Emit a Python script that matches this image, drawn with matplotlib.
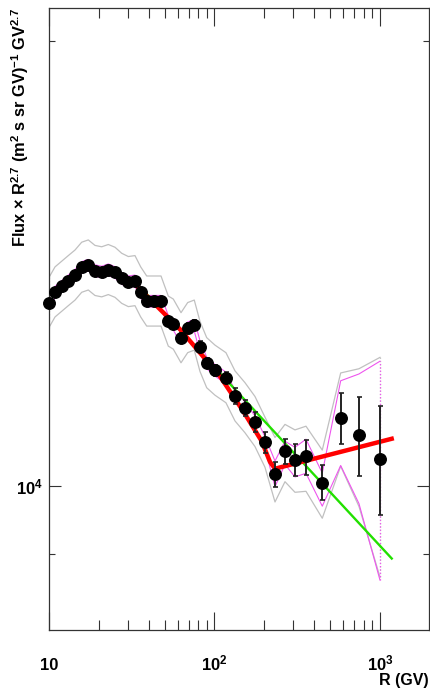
import numpy as np
import matplotlib
matplotlib.use("Agg")
import matplotlib.pyplot as plt
from matplotlib.ticker import FixedLocator, FixedFormatter, NullFormatter

plt.rcParams['font.family'] = ['Liberation Sans', 'DejaVu Sans']
plt.rcParams['font.weight'] = 'bold'
plt.rcParams['mathtext.fontset'] = 'custom'
plt.rcParams['mathtext.rm'] = 'Liberation Sans:bold'
plt.rcParams['mathtext.bf'] = 'Liberation Sans:bold'
plt.rcParams['mathtext.it'] = 'Liberation Sans:bold'
plt.rcParams['mathtext.default'] = 'rm'

# ---- data ----
rigidity = [10.0, 10.87, 11.93, 13.08, 14.36, 15.76, 17.28, 18.96, 20.82, 22.82,
            25.05, 27.50, 30.15, 33.08, 35.82, 38.93, 43.10, 47.51, 52.59, 56.37,
            62.76, 68.89, 75.48, 81.74, 89.72, 100.7, 117.3, 133.0, 152.9, 175.7,
            201.9, 232.1, 266.7, 306.5, 357.2, 448.1, 578.8, 746.6, 1000.0]
flux = [13300, 13520, 13640, 13760, 13880, 14050, 14100, 13980, 13950, 14000,
        13940, 13810, 13740, 13760, 13520, 13330, 13330, 13330, 12920, 12860,
        12590, 12790, 12840, 12420, 12110, 11970, 11830, 11500, 11290, 11050,
        10700, 10190, 10550, 10410, 10470, 10040, 11110, 10820, 10430]
err_lo = [80]*20 + [100]*7 + [145, 142, 174, 168, 205, 208, 257, 306, 263, 437, 660, 873]
err_hi = [80]*20 + [100]*7 + [145, 142, 174, 168, 193, 208, 263, 265, 286, 453, 661, 887]

# outer (grey) and inner (magenta) bands, relative half widths in percent
grey_up_pct = [4.0]*31 + [5.8, 4.3, 4.8, 4.8, 5.3, 7.3, 10.9, 17.1]
grey_lo_pct = [3.8]*31 + [4.3, 4.6, 4.9, 5.3, 5.3, 7.2, 10.5, 16.8]
mag_up_pct = [0.9]*31 + [2.0, 1.6, 2.0, 2.7, 1.6, 6.0, 10.0, 16.4]
mag_lo_pct = [0.9]*31 + [2.0, 2.0, 2.6, 2.6, 3.5, 7.1, 10.1, 17.2]

# single power-law fit (green) and broken power-law fit (red)
green_R = [33.6, 1178]
green_F = [13720, 8930]
red_R = [33.88, 61.88, 107.9, 149.3, 192.8, 216.4, 232.1, 1177]
red_F = [13650, 12760, 11860, 11230, 10720, 10380, 10270, 10760]

x_ticks = [10, 100, 1000]
x_tick_labels = ['10', r'$10^{2}$', r'$10^{3}$']
y_ticks = [1e4]
y_tick_labels = [r'$10^{4}$']
y_minor = [9e3, 2e4]

R = np.array(rigidity)
F = np.array(flux)

fig = plt.figure(figsize=(4.31, 6.90), dpi=100)
ax = fig.add_axes([0.1137, 0.087, 0.8823, 0.9014])
ax.set_xscale('log')
ax.set_yscale('log')
ax.set_xlim(10, 1986)
ax.set_ylim(7990, 21040)

grey = '#c0c0c0'
mag = '#ee55ee'
g_hi = F * (1 + np.array(grey_up_pct) / 100)
g_lo = F * (1 - np.array(grey_lo_pct) / 100)
m_hi = F * (1 + np.array(mag_up_pct) / 100)
m_lo = F * (1 - np.array(mag_lo_pct) / 100)
ax.plot(R, g_hi, color=grey, lw=0.9, zorder=1)
ax.plot(R, g_lo, color=grey, lw=0.9, zorder=1)
ax.plot([R[0], R[0]], [g_lo[0], g_hi[0]], color=grey, lw=0.9, ls=':', zorder=1)
ax.plot([R[-1], R[-1]], [g_lo[-1], g_hi[-1]], color=grey, lw=0.9, ls=':', zorder=1)
ax.plot(R, m_hi, color=mag, lw=0.8, zorder=2)
ax.plot(R, m_lo, color=mag, lw=0.8, zorder=2)
ax.plot([R[-1], R[-1]], [m_lo[-1], m_hi[-1]], color=mag, lw=0.9, ls=':', zorder=2)

ax.plot(green_R, green_F, color='#22e000', lw=1.7, zorder=3)
ax.plot(red_R, red_F, color='#ff0000', lw=3.2, zorder=4, solid_joinstyle='miter')

ax.errorbar(R, F, yerr=[err_lo, err_hi], fmt='o', color='black', ms=8.3,
            ecolor='#222222', elinewidth=1.4, capsize=1.8, capthick=1.2,
            zorder=5, clip_on=False)

ax.xaxis.set_major_locator(FixedLocator(x_ticks))
ax.xaxis.set_major_formatter(FixedFormatter(x_tick_labels))
minx = [m * 10**e for e in (1, 2, 3) for m in range(2, 10) if m * 10**e < 1986]
ax.xaxis.set_minor_locator(FixedLocator(minx))
ax.xaxis.set_minor_formatter(NullFormatter())
ax.yaxis.set_major_locator(FixedLocator(y_ticks))
ax.yaxis.set_major_formatter(FixedFormatter(y_tick_labels))
ax.yaxis.set_minor_locator(FixedLocator(y_minor))
ax.yaxis.set_minor_formatter(NullFormatter())

ax.tick_params(axis='both', which='both', direction='in', top=True, right=True,
               color='#333333', width=0.8, labelsize=12)
ax.tick_params(axis='x', which='major', length=13, pad=29)
ax.tick_params(axis='x', which='minor', length=7)
ax.tick_params(axis='y', which='major', length=8.5, pad=4)
ax.tick_params(axis='y', which='minor', length=4.5)
for s in ax.spines.values():
    s.set_linewidth(0.9)
    s.set_color('#333333')

fig.canvas.draw()
for t in ax.get_xticklabels():
    t.set_verticalalignment('baseline')

fig.text(20 / 431, 1 - 8 / 690,
         r'Flux $\times$ R$^{2.7}$ (m$^{2}$ s sr GV)$^{-1}$ GV$^{2.7}$',
         rotation=90, ha='center', va='top', fontsize=11.8, fontweight='bold')
fig.text(429 / 431, 1 - 680 / 690, 'R (GV)', ha='right', va='center',
         fontsize=11.5, fontweight='bold')

fig.savefig('out.png', dpi=100)
